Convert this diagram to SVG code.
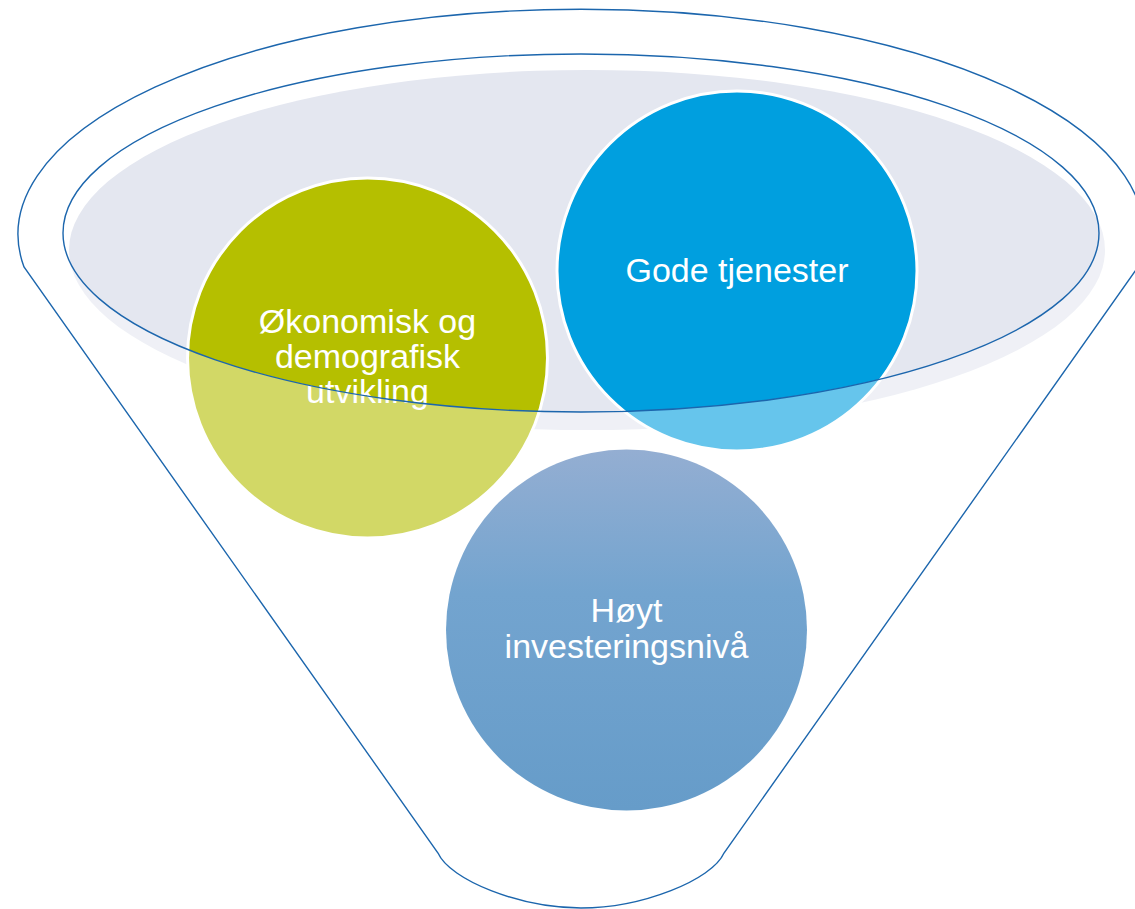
<svg xmlns="http://www.w3.org/2000/svg" width="1135" height="909" viewBox="0 0 1135 909">
<style>
.circ{stroke:#ffffff;stroke-width:3}
.lbl{font-family:"Liberation Sans",Arial,sans-serif;font-size:34px;fill:#ffffff;text-anchor:middle}
.line{fill:none;stroke:#1c66ad;stroke-width:1.4}
</style>
<defs>
<linearGradient id="gBlue" x1="0" y1="0" x2="0" y2="1">
<stop offset="0" stop-color="#94aed2"/>
<stop offset="0.4" stop-color="#73a4cf"/>
<stop offset="1" stop-color="#669cc9"/>
</linearGradient>
</defs>
<rect width="1135" height="909" fill="#ffffff"/>
<g id="funnel-back">
<ellipse cx="587" cy="250" rx="518" ry="180" fill="#e4e7f0"/>
</g>
<g id="node-okonomisk">
<circle class="circ" cx="367.5" cy="358" r="180" fill="#b5bf00"/>
</g>
<g id="node-gode">
<circle class="circ" cx="737" cy="271" r="180" fill="#009fdf"/>
<text class="lbl" x="737" y="282">Gode tjenester</text>
</g>
<g id="funnel-overlay">
<path fill="#ffffff" fill-opacity="0.4" fill-rule="evenodd" d="M 24,267 A 563,225 0 1 1 1138,267 L 724,853 C 712,880 642,908 581,908 C 520,908 450,880 438,853 Z M 63,233 A 518,179 0 1 0 1099,233 A 518,179 0 1 0 63,233 Z"/>
</g>
<g id="node-okonomisk-label">
<text class="lbl" x="367.5" y="333">Økonomisk og</text>
<text class="lbl" x="367.5" y="368">demografisk</text>
<text class="lbl" x="367.5" y="403">utvikling</text>
</g>
<g id="node-hoyt">
<circle cx="626.5" cy="630" r="180.5" fill="url(#gBlue)"/>
<text class="lbl" x="626.5" y="622">Høyt</text>
<text class="lbl" x="626.5" y="658">investeringsnivå</text>
</g>
<g id="connectors">
<path class="line" d="M 24,267 A 563,225 0 1 1 1138,267 L 724,853 C 712,880 642,908 581,908 C 520,908 450,880 438,853 Z"/>
<ellipse class="line" cx="581" cy="233" rx="518" ry="179"/>
</g>
</svg>
